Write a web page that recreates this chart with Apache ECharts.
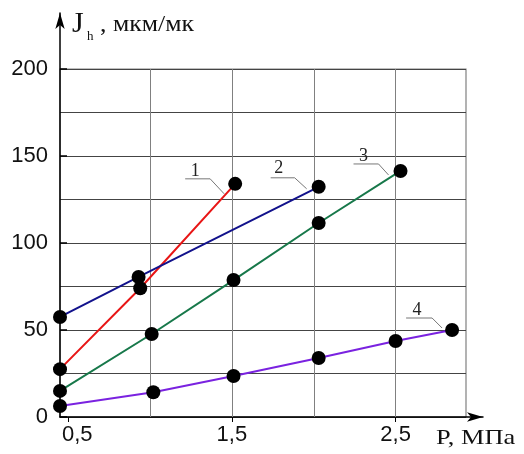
<!DOCTYPE html>
<html><head><meta charset="utf-8">
<script src="https://cdn.jsdelivr.net/npm/echarts@6/dist/echarts.min.js"></script>
<style>html,body{margin:0;padding:0;background:#fff}#c{width:524px;height:454px}</style>
</head><body><div id="c"></div>
<script>
// P, MPa  /  J_h, мкм/мк
const pressure1 = [0.45, 0.94, 1.52];
const wear1     = [27.5, 74, 134];
const pressure2 = [0.45, 0.93, 2.03];
const wear2     = [57.5, 80.5, 132.3];
const pressure3 = [0.45, 1.01, 1.51, 2.03, 2.53];
const wear3     = [15, 47.7, 78.7, 111.5, 141.4];
const pressure4 = [0.45, 1.02, 1.51, 2.03, 2.50, 2.845];
const wear4     = [6.3, 14.2, 23.6, 33.9, 43.7, 50];
const seriesNames = ['1', '2', '3', '4'];
const xTickLabels = [0.5, 1.5, 2.5];
const xGridValues = [1, 1.5, 2, 2.5];
const yTickLabels = [0, 50, 100, 150, 200];

const colors = ['#e81515', '#12128c', '#17784a', '#7a22e0'];
const pressures = [pressure1, pressure2, pressure3, pressure4];
const wears = [wear1, wear2, wear3, wear4];
// leader-line offsets (pixels relative to last point)
const leader = [
  {lab: [-40, -13], pts: [[-50, -5], [-25, -5], [-11, 10]]},
  {lab: [-40, -19], pts: [[-48, -9], [-24, -9], [-12, 2]]},
  {lab: [-37, -15], pts: [[-47, -7], [-22, -7], [-12, 4]]},
  {lab: [-35, -20], pts: [[-46, -12], [-20, -12], [-10, -2]]}
];

const chart = echarts.init(document.getElementById('c'), null, {renderer: 'canvas'});
const numFont = '"Liberation Sans", Arial, sans-serif';
const serif = '"Liberation Serif", "Times New Roman", serif';

const series = pressures.map((p, i) => ({
  name: seriesNames[i],
  type: 'line',
  xAxisIndex: 0, yAxisIndex: 0,
  data: p.map((x, j) => [x, wears[i][j]]),
  symbol: 'circle', symbolSize: 14,
  itemStyle: {color: '#000'},
  lineStyle: {color: colors[i], width: 2},
  z: 5,
  animation: false
}));
series[0].markLine = {
  silent: true, symbol: 'none', animation: false,
  label: {show: false},
  lineStyle: {color: '#808080', type: 'solid', width: 1},
  data: xGridValues.map(v => ({xAxis: v}))
};

chart.setOption({
  animation: false,
  backgroundColor: '#fff',
  grid: [
    {left: 60, right: 58, top: 69, bottom: 37, show: true, borderColor: '#808080', borderWidth: 1.2, backgroundColor: 'transparent'},
    {left: 60, right: 41, top: 13, bottom: 37}
  ],
  xAxis: [
    {gridIndex: 0, type: 'value', min: 0.45, max: 2.93,
     axisLine: {show: false}, splitLine: {show: false},
     axisTick: {show: true, customValues: xTickLabels, length: 5, lineStyle: {color: '#000'}},
     axisLabel: {customValues: xTickLabels,
       formatter: v => (v === 0.5 ? '{s|0,5}' : String(v).replace('.', ',')),
       rich: {s: {fontFamily: numFont, fontSize: 22, color: '#111', padding: [0, 0, 0, 18]}},
       fontFamily: numFont, fontSize: 22, color: '#111', margin: 7}},
    {gridIndex: 1, type: 'value', min: 0, max: 1,
     axisLine: {show: true, symbol: ['none', 'arrow'], symbolSize: [7, 16], lineStyle: {color: '#000', width: 1.5}},
     axisTick: {show: false}, axisLabel: {show: false}, splitLine: {show: false}}
  ],
  yAxis: [
    {gridIndex: 0, type: 'value', min: 0, max: 200, interval: 25,
     axisLine: {show: false}, axisTick: {show: false},
     splitLine: {show: true, lineStyle: {color: '#444', width: 1}},
     axisLabel: {formatter: v => (yTickLabels.indexOf(v) >= 0 ? String(v) : ''),
       fontFamily: numFont, fontSize: 22, color: '#111', margin: 12}},
    {gridIndex: 0, type: 'value', min: 0, max: 200, interval: 50, position: 'left',
     axisLine: {show: false}, splitLine: {show: false}, axisLabel: {show: false},
     axisTick: {show: true, inside: true, length: 7, lineStyle: {color: '#000', width: 1.5}}},
    {gridIndex: 1, type: 'value', min: 0, max: 1,
     axisLine: {show: true, symbol: ['none', 'arrow'], symbolSize: [7, 16], lineStyle: {color: '#000', width: 1.5}},
     axisTick: {show: false}, axisLabel: {show: false}, splitLine: {show: false}}
  ],
  series: series
});

const graphics = [
  {type: 'text', x: 72, y: 9, z: 10,
   style: {text: 'J', fontFamily: serif, fontSize: 30, fill: '#111', verticalAlign: 'top'}},
  {type: 'text', x: 87, y: 30, z: 10,
   style: {text: 'h', fontFamily: serif, fontSize: 13, fill: '#111', verticalAlign: 'top'}},
  {type: 'text', x: 100, y: 13, z: 10, scaleX: 1.12,
   style: {text: ', мкм/мк', fontFamily: serif, fontSize: 23, fill: '#111', verticalAlign: 'top'}},
  {type: 'text', x: 436, y: 427, z: 10, scaleX: 1.2,
   style: {text: 'P, МПа', fontFamily: serif, fontSize: 22, fill: '#111', verticalAlign: 'top'}}
];
pressures.forEach((p, i) => {
  const n = p.length - 1;
  const e = chart.convertToPixel({gridIndex: 0}, [p[n], wears[i][n]]);
  const L = leader[i];
  graphics.push({type: 'polyline', z: 4, silent: true,
    shape: {points: L.pts.map(q => [e[0] + q[0], e[1] + q[1]])},
    style: {stroke: '#777', lineWidth: 1, fill: null}});
  graphics.push({type: 'text', z: 10, x: e[0] + L.lab[0], y: e[1] + L.lab[1],
    style: {text: seriesNames[i], fontFamily: serif, fontSize: 18, fill: '#222', align: 'center', verticalAlign: 'middle'}});
});
chart.setOption({graphic: graphics});
</script>
</body></html>
